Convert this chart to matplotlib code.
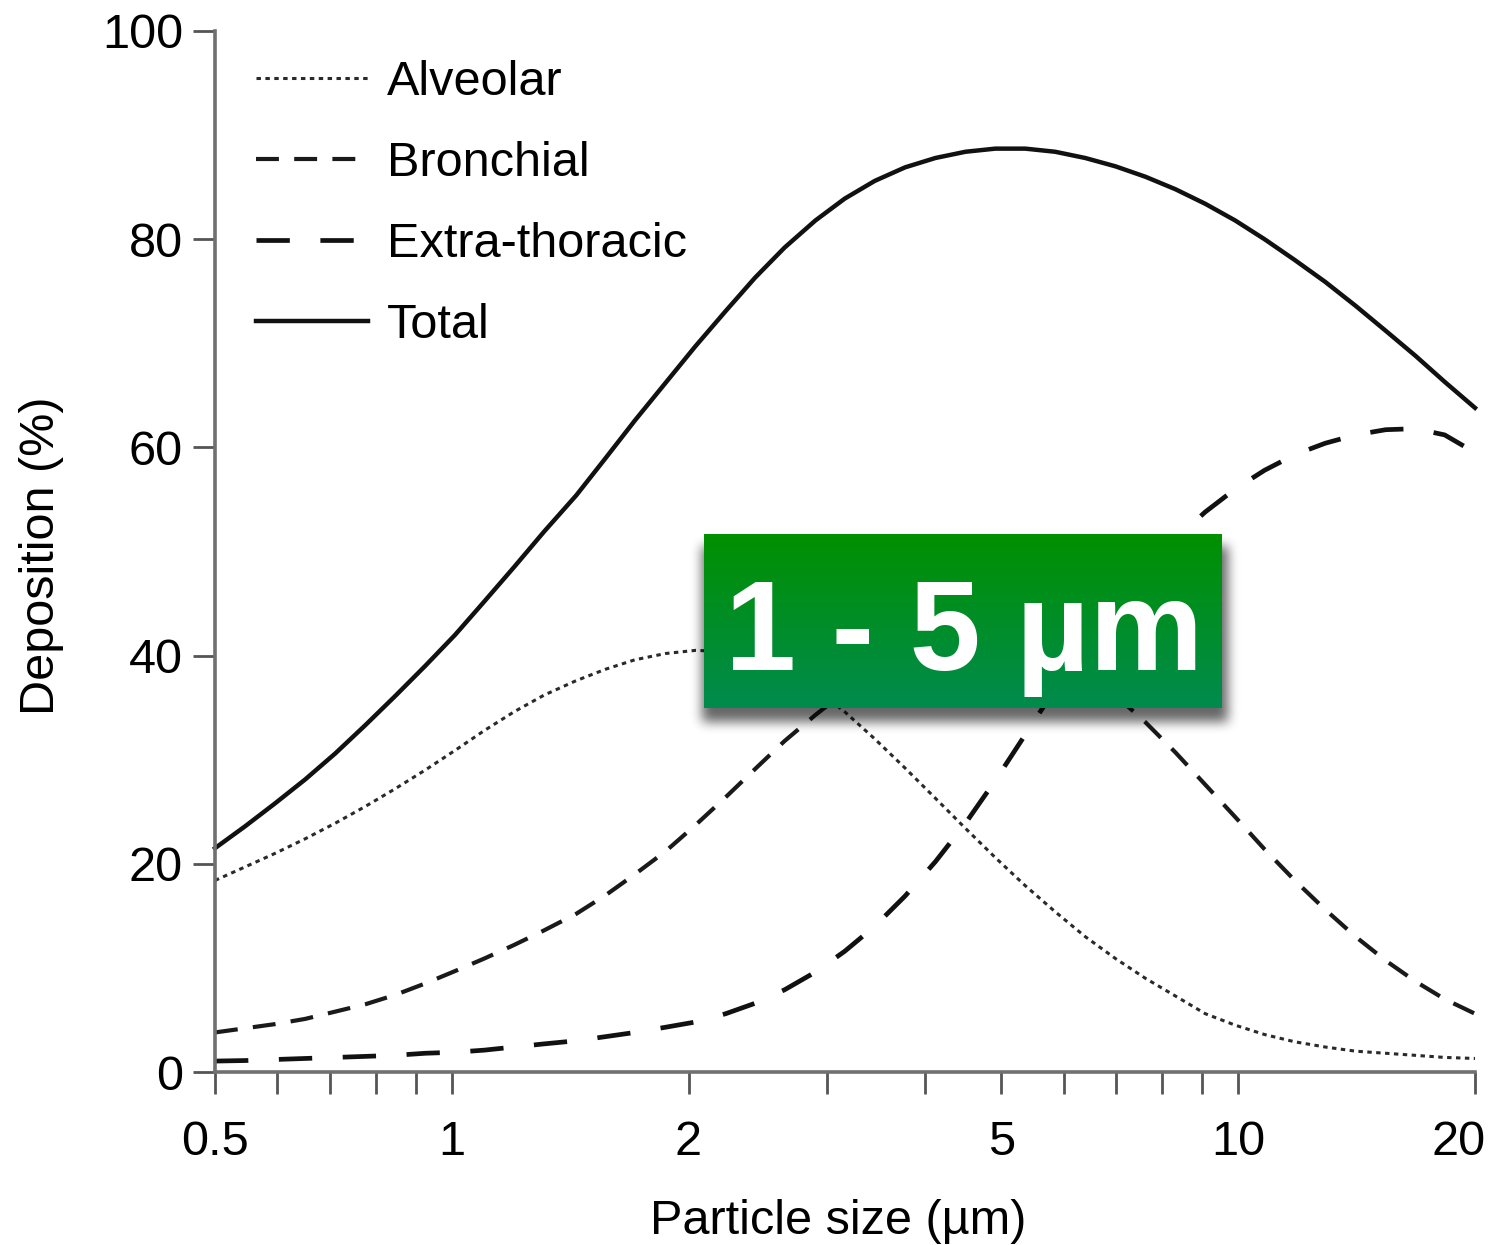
import numpy as np
import matplotlib.pyplot as plt
from matplotlib import ticker
from matplotlib.transforms import ScaledTranslation

plt.rcParams['font.family'] = ['Liberation Sans', 'DejaVu Sans']
plt.rcParams['lines.scale_dashes'] = False

size = [0.5, 0.546, 0.596, 0.651, 0.711, 0.776, 0.847, 0.925, 1.01, 1.10,
        1.20, 1.31, 1.44, 1.57, 1.71, 1.87, 2.04, 2.23, 2.43, 2.65,
        2.90, 3.16, 3.45, 3.77, 4.12, 4.50, 4.91, 5.36, 5.85, 6.39,
        6.98, 7.62, 8.32, 9.08, 9.91, 10.8, 11.8, 12.9, 14.1, 15.4,
        16.8, 18.3, 20]

# deposition (%)
total = [21.5, 23.6, 25.8, 28.1, 30.6, 33.3, 36.1, 39.0, 42.0, 45.2,
         48.5, 51.9, 55.4, 59.0, 62.6, 66.2, 69.7, 73.1, 76.3, 79.2,
         81.8, 83.9, 85.6, 86.9, 87.8, 88.4, 88.7, 88.7, 88.4, 87.8,
         87.0, 86.0, 84.8, 83.4, 81.8, 80.0, 78.0, 75.9, 73.6, 71.2,
         68.8, 66.3, 63.8]
alveolar = [18.4, 19.7, 21.0, 22.4, 23.9, 25.5, 27.2, 29.0, 30.9, 32.8,
            34.6, 36.2, 37.6, 38.7, 39.6, 40.2, 40.5, 40.4, 39.8, 38.6,
            36.8, 34.6, 32.0, 29.2, 26.3, 23.4, 20.6, 17.9, 15.4, 13.0,
            10.9, 9.0, 7.3, 5.6, 4.5, 3.6, 2.9, 2.4, 2.0, 1.8,
            1.6, 1.4, 1.3]
bronchial = [3.8, 4.2, 4.6, 5.1, 5.8, 6.5, 7.4, 8.5, 9.7, 10.9,
             12.2, 13.6, 15.2, 17.0, 19.0, 21.2, 23.7, 26.4, 29.1, 31.8,
             34.3, 36.5, 38.4, 39.9, 41.0, 41.6, 41.7, 41.2, 40.1, 38.4,
             36.2, 33.6, 30.7, 27.6, 24.5, 21.4, 18.4, 15.6, 13.0, 10.7,
             8.7, 7.0, 5.6]
extra = [1.05, 1.1, 1.2, 1.3, 1.4, 1.5, 1.6, 1.8, 1.9, 2.1,
         2.4, 2.7, 3.0, 3.4, 3.8, 4.3, 4.8, 5.6, 6.6, 7.9,
         9.6, 11.6, 14.0, 16.9, 20.2, 23.9, 28.0, 32.4, 36.8, 41.0,
         44.8, 48.2, 51.2, 53.8, 56.0, 57.8, 59.3, 60.4, 61.2, 61.7,
         61.8, 61.2, 59.5]

xticks = [0.5, 1, 2, 5, 10, 20]
xticklabels = ['0.5', '1', '2', '5', '10', '20']
xminor = [0.6, 0.7, 0.8, 0.9, 3, 4, 6, 7, 8, 9]
yticks = [0, 20, 40, 60, 80, 100]

W, H = 1493, 1245
fig = plt.figure(figsize=(W / 100, H / 100), dpi=100)
ax = fig.add_axes([215 / W, 1 - 1072 / H, 1260 / W, 1041 / H])

ax.plot(size, alveolar, color='#2a2a2a', lw=2.2, dashes=(3.2, 3.2), label='Alveolar', clip_on=False)
ax.plot(size, bronchial, color='#1a1a1a', lw=3.0, dashes=(16.5, 11), label='Bronchial', clip_on=False)
ax.plot(size, extra, color='#111111', lw=3.4, dashes=(24, 22), label='Extra-thoracic', clip_on=False)
ax.plot(size, total, color='#111111', lw=3.2, label='Total', clip_on=False)

ax.set_xscale('log')
ax.set_xlim(0.5, 20)
ax.set_ylim(0, 100)
ax.set_xticks(xticks)
ax.set_xticklabels(xticklabels)
ax.set_xticks(xminor, minor=True)
ax.xaxis.set_minor_formatter(ticker.NullFormatter())
ax.set_yticks(yticks)

for s in ['top', 'right']:
    ax.spines[s].set_visible(False)
for s in ['left', 'bottom']:
    ax.spines[s].set_color('#707070')
    ax.spines[s].set_linewidth(2.6)

ax.tick_params(axis='x', which='both', length=16, width=2, color='#555555', pad=18.5, labelsize=35)
ax.tick_params(axis='y', length=16, width=2, color='#555555', pad=7, labelsize=35)

# the last size label sits a little left of its tick in the reference
last = ax.xaxis.get_major_ticks()[-1].label1
last.set_transform(last.get_transform() + ScaledTranslation(-0.16, 0, fig.dpi_scale_trans))

ax.legend(loc='upper left', bbox_to_anchor=(41 / 1260, 1 - 29 / 1041), frameon=False,
          fontsize=35, handlelength=2.3, handletextpad=0.4, labelspacing=0.74,
          borderpad=0, borderaxespad=0)

fig.text(42 / W, 1 - 556 / H, 'Deposition (%)', rotation=90, ha='center', va='center', fontsize=35)
fig.text(838 / W, 1 - 1221 / H, 'Particle size (µm)', ha='center', va='center', fontsize=35)

# green label box with a soft drop shadow
bx0, bx1, by0, by1 = 704, 1222, 535, 708
m = 40
bw, bh = bx1 - bx0 + 2 * m, by1 - by0 + 2 * m
mask = np.zeros((bh, bw))
mask[m + 12:m + (by1 - by0) + 14, m - 2:m + (bx1 - bx0) + 6] = 1.0


def blur(a, r):
    k = np.ones(2 * r + 1) / (2 * r + 1)
    for _ in range(3):
        a = np.apply_along_axis(lambda v: np.convolve(v, k, mode='same'), 0, a)
        a = np.apply_along_axis(lambda v: np.convolve(v, k, mode='same'), 1, a)
    return a


rgba = np.zeros((bh, bw, 4))
rgba[..., 3] = blur(mask, 5) * 0.6
top = np.array([0, 144, 0]) / 255
bot = np.array([0, 139, 78]) / 255
t = np.linspace(0, 1, by1 - by0)[:, None, None]
rgba[m:m + (by1 - by0), m:m + (bx1 - bx0), :3] = top * (1 - t) + bot * t
rgba[m:m + (by1 - by0), m:m + (bx1 - bx0), 3] = 1.0

bax = fig.add_axes([(bx0 - m) / W, 1 - (by1 + m) / H, bw / W, bh / H])
bax.imshow(rgba, aspect='auto', interpolation='nearest')
bax.axis('off')

fig.text(964 / W, 1 - 670 / H, '1 - 5 µm', fontsize=92, fontweight='bold', color='white',
         ha='center', va='baseline', zorder=10)

fig.savefig('out.png', dpi=100)
